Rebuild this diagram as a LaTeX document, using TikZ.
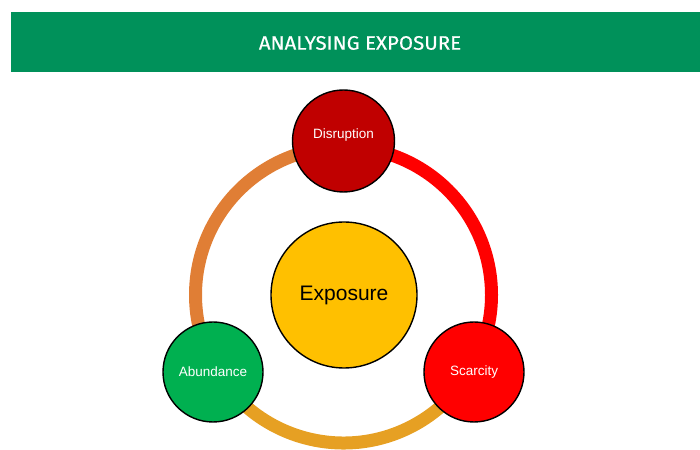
\documentclass[tikz,border=0pt]{standalone}
\usepackage{fontspec}
\setmainfont{Liberation Sans}
\newfontfamily\titlefont{Fira Sans}[FakeBold=0.4]
\definecolor{bandgreen}{HTML}{00915A}
\definecolor{arcorange}{HTML}{E07E35}
\definecolor{arcred}{HTML}{FF0000}
\definecolor{arcgold}{HTML}{E6A023}
\definecolor{darkred}{HTML}{C00000}
\definecolor{amber}{HTML}{FFC000}
\definecolor{leafgreen}{HTML}{00B050}
\definecolor{brightred}{HTML}{FF0000}
\begin{document}
\begin{tikzpicture}[x=1pt,y=1pt,
  ringarc/.style={line width=13pt},
  bubble/.style={circle, draw=black, line width=1.4pt, inner sep=0pt, text=white, font=\fontsize{13.5}{16}\selectfont},
  caption/.style={inner sep=0pt, text=white, font=\fontsize{13.5}{16}\selectfont}]
\useasboundingbox (0,0) rectangle (700,449);
% title band
\fill[bandgreen] (11,377) rectangle (700,437);
\node[text=white, font=\titlefont\fontsize{19.5}{22}\selectfont] (title) at (360,406) {\scalebox{1.05}[1]{ANALYSING EXPOSURE}};
% ring joining the three outer circles
\coordinate (hub) at (343.5,154);
\draw[ringarc, arcorange] ([shift={(90:148)}]hub) arc[start angle=90, end angle=210, radius=148];
\draw[ringarc, arcred] ([shift={(90:148)}]hub) arc[start angle=90, end angle=-30, radius=148];
\draw[ringarc, arcgold] ([shift={(210:148)}]hub) arc[start angle=210, end angle=330, radius=148];
% circles
\node[bubble, fill=amber, minimum size=146pt, text=black, font=\fontsize{21}{25}\selectfont] (exposure) at (344,154) {Exposure};
\node[bubble, fill=darkred, minimum size=102pt] (disruption) at (343.5,308) {};
\node[caption] (disruptiontext) at ([yshift=6pt]disruption.center) {Disruption};
\node[bubble, fill=leafgreen, minimum size=100pt] (abundance) at (213,77) {Abundance};
\node[bubble, fill=brightred, minimum size=100pt] (scarcity) at (474,77) {Scarcity};
\end{tikzpicture}
\end{document}
